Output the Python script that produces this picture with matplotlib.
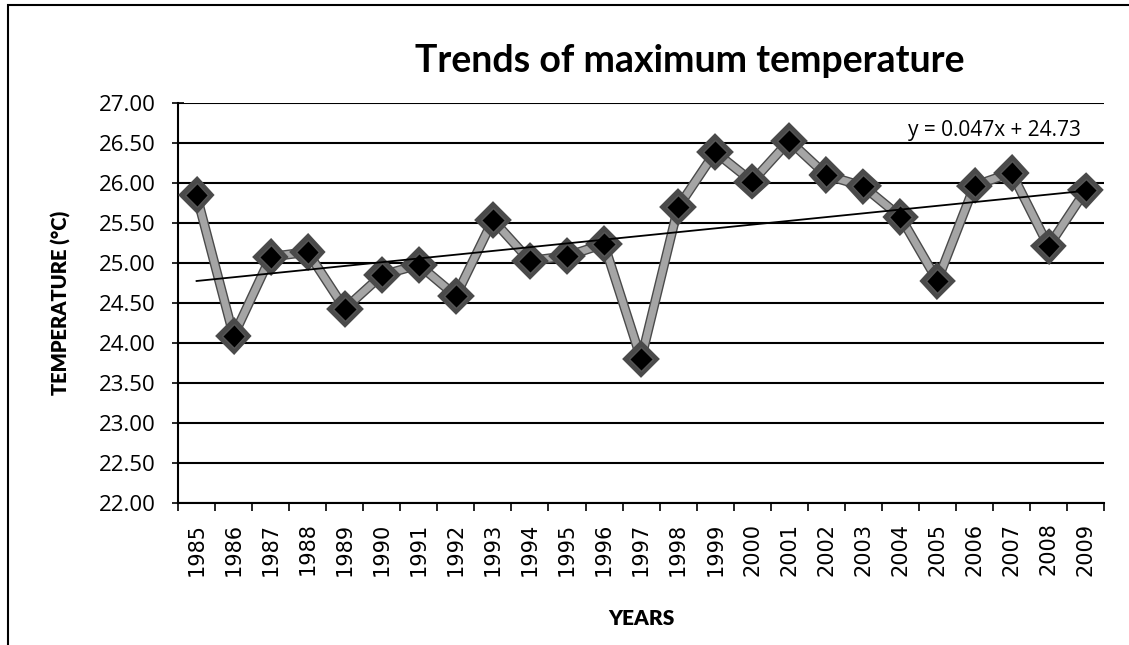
import matplotlib
matplotlib.use('Agg')
from matplotlib import pyplot as plt
from matplotlib.patches import Rectangle
import matplotlib.patheffects as pe
import numpy as np

years = [1985, 1986, 1987, 1988, 1989, 1990, 1991, 1992, 1993, 1994, 1995, 1996, 1997,
         1998, 1999, 2000, 2001, 2002, 2003, 2004, 2005, 2006, 2007, 2008, 2009]
tmax = [25.85, 24.09, 25.08, 25.14, 24.43, 24.85, 24.98, 24.59, 25.54, 25.03, 25.09, 25.24, 23.80,
        25.70, 26.39, 26.02, 26.53, 26.10, 25.96, 25.58, 24.78, 25.97, 26.13, 25.21, 25.91]
slope = 0.047
intercept = 24.73
yticks = [22.0, 22.5, 23.0, 23.5, 24.0, 24.5, 25.0, 25.5, 26.0, 26.5, 27.0]

plt.rcParams['font.family'] = ['Lato', 'DejaVu Sans']

fig = plt.figure(figsize=(11.29, 6.45), dpi=100)
ax = fig.add_axes([0.1577, 0.220, 0.8203, 0.620])

x = np.arange(1, len(years) + 1)
ax.plot(x, tmax, color='#a5a5a5', linewidth=5, marker='D', markersize=12,
        markerfacecolor='black', markeredgecolor='#555555', markeredgewidth=1,
        path_effects=[pe.Stroke(linewidth=7, foreground='#4a4a4a'), pe.Normal()], zorder=3)

# linear trend (x = 1..n, as in the spreadsheet)
trend = slope * x + intercept
ax.plot(x, trend, color='black', linewidth=1.3, zorder=4)
ax.text(20.2, 26.66, 'y = 0.047x + 24.73', fontsize=15, family='Open Sans', va='center')

ax.set_xlim(0.5, len(years) + 0.5)
ax.set_ylim(22, 27)
ax.set_yticks(yticks)
ax.set_yticklabels(['%.2f' % v for v in yticks], fontsize=16, family='Open Sans')
ax.grid(axis='y', color='black', linewidth=1.5)
ax.set_axisbelow(True)

ax.set_xticks(np.arange(0.5, len(years) + 1, 1))
ax.set_xticklabels([])
ax.set_xticks(x, minor=True)
ax.set_xticklabels([str(y) for y in years], minor=True, rotation=90, fontsize=15,
                   family='DejaVu Sans')
ax.tick_params(axis='x', which='minor', length=0, pad=14)
ax.tick_params(axis='x', which='major', length=6, direction='out', width=1.2)
ax.tick_params(axis='y', length=8, direction='inout', width=1.2, pad=12)

for s in ['top', 'right']:
    ax.spines[s].set_visible(False)
ax.spines['left'].set_linewidth(1.5)
ax.spines['bottom'].set_linewidth(1.5)

ax.set_ylabel('TEMPERATURE (°C)', fontsize=14.5, fontweight='heavy', labelpad=20)
ax.set_xlabel('YEARS', fontsize=15, fontweight='heavy', labelpad=24)
fig.text(0.611, 0.905, 'Trends of maximum temperature', fontsize=27, fontweight='bold',
         ha='center', va='center')

fig.patches.append(Rectangle((0.007, -0.02), 1.1, 1.013, transform=fig.transFigure,
                             fill=False, edgecolor='black', linewidth=1.5))

fig.savefig('out.png', dpi=100)
